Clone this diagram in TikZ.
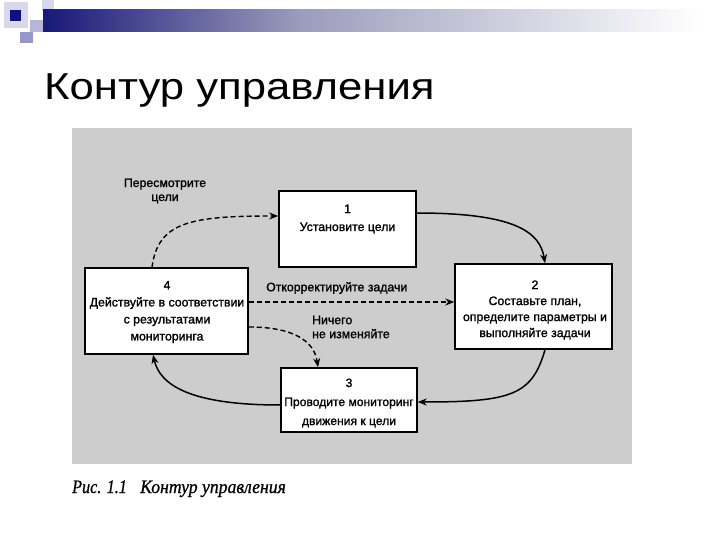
\documentclass[tikz,border=0pt]{standalone}
\usepackage{fontspec}
\setmainfont{Liberation Sans}
\newfontfamily\diagfont[FakeBold=1.3]{Liberation Sans}
\newfontfamily\capfont[FakeBold=0.8]{Liberation Serif}
\usetikzlibrary{arrows.meta}
\definecolor{navy}{RGB}{24,24,120}
\definecolor{midbar}{RGB}{156,156,188}
\definecolor{scan}{RGB}{205,205,205}
\definecolor{sqlight}{RGB}{216,216,236}
\definecolor{sqmid}{RGB}{150,150,200}
\definecolor{sqdark}{RGB}{16,16,130}
\begin{document}
\begin{tikzpicture}[x=1pt,y=-1pt,
  box/.style={draw,line width=1.5pt,fill=white,inner sep=0pt},
  txt/.style={align=center,inner sep=0pt},
  lbl/.style={font=\diagfont\fontsize{12.3}{14}\selectfont,inner sep=0pt},
  flow/.style={line width=1.5pt,-{Stealth[length=9pt,width=7pt]}},
  back/.style={line width=1.4pt,dash pattern=on 5pt off 3pt,-{Stealth[length=9pt,width=7pt]}}]
\useasboundingbox (0,0) rectangle (720,540);
% header decoration
\fill[sqlight] (4,2) rectangle (28,28);
\fill[sqlight] (42,0) rectangle (54,11);
\fill[sqmid!70] (30,20) rectangle (43,32);
\fill[sqmid] (20,32) rectangle (33,43);
\fill[sqdark] (10,10) rectangle (21,21);
\fill[left color=navy,right color=midbar] (43,10) rectangle (300,32);
\fill[left color=midbar,right color=white] (300,10) rectangle (700,32);
% title
\node[anchor=base west,inner sep=0pt,font=\fontsize{37.5}{40}\selectfont] (title) at (44,100) {\scalebox{1.165}[1]{Контур управления}};
% scanned figure background
\fill[scan] (72,128) rectangle (632,464);
% boxes
\node[box,minimum width=137pt,minimum height=76pt] (b1) at (347.5,229) {};
\node[box,minimum width=157pt,minimum height=85pt] (b2) at (533.5,306.5) {};
\node[box,minimum width=136pt,minimum height=64pt] (b3) at (349,400) {};
\node[box,minimum width=163pt,minimum height=86pt] (b4) at (166.5,311) {};
\node[txt,font=\diagfont\fontsize{12.3}{18}\selectfont] (t1) at (347.5,219) {1\\Установите цели};
\node[txt,font=\diagfont\fontsize{12.3}{16}\selectfont] (t2) at (535,310) {2\\Составьте план,\\определите параметры и\\выполняйте задачи};
\node[txt,font=\diagfont\fontsize{12.1}{19}\selectfont] (t3) at (349,403) {3\\Проводите мониторинг\\движения к цели};
\node[txt,font=\diagfont\fontsize{12.3}{17}\selectfont] (t4) at (167,312) {4\\Действуйте в соответствии\\с результатами\\мониторинга};
% labels
\node[lbl,align=center] (l1) at (165,191) {Пересмотрите\\цели};
\node[lbl,anchor=west] (l2) at (266,288) {Откорректируйте задачи};
\node[lbl,anchor=west,align=left] (l3) at (312,327) {Ничего\\не изменяйте};
\node[anchor=base west,inner sep=0pt,font=\capfont\itshape\fontsize{19}{20}\selectfont] (c1) at (72,493) {\scalebox{0.85}[1]{Рис. 1.1}};
\node[anchor=base west,inner sep=0pt,font=\capfont\itshape\fontsize{19}{20}\selectfont] (c2) at (140,493) {\scalebox{0.93}[1]{Контур управления}};
% solid loop
\draw[flow] ([yshift=16pt]b1.east) .. controls (515,213) and (540,232) .. ([xshift=11.5pt]b2.north);
\draw[flow] ([xshift=11.5pt]b2.south) .. controls (532,395) and (512,402) .. ([yshift=-2pt]b3.east);
\draw[flow] ([yshift=-5pt]b3.west) .. controls (190,405) and (160,385) .. ([xshift=-13.5pt]b4.south);
% dashed feedback
\draw[back] ([xshift=-14.5pt]b4.north) .. controls (158,222) and (190,216) .. ([yshift=13pt]b1.west);
\draw[back] ([yshift=9pt]b4.east) -- ([yshift=4.5pt]b2.west);
\draw[back] ([yshift=-16pt]b4.east) .. controls (292,327) and (314,340) .. ([xshift=-31pt]b3.north);
\end{tikzpicture}
\end{document}
